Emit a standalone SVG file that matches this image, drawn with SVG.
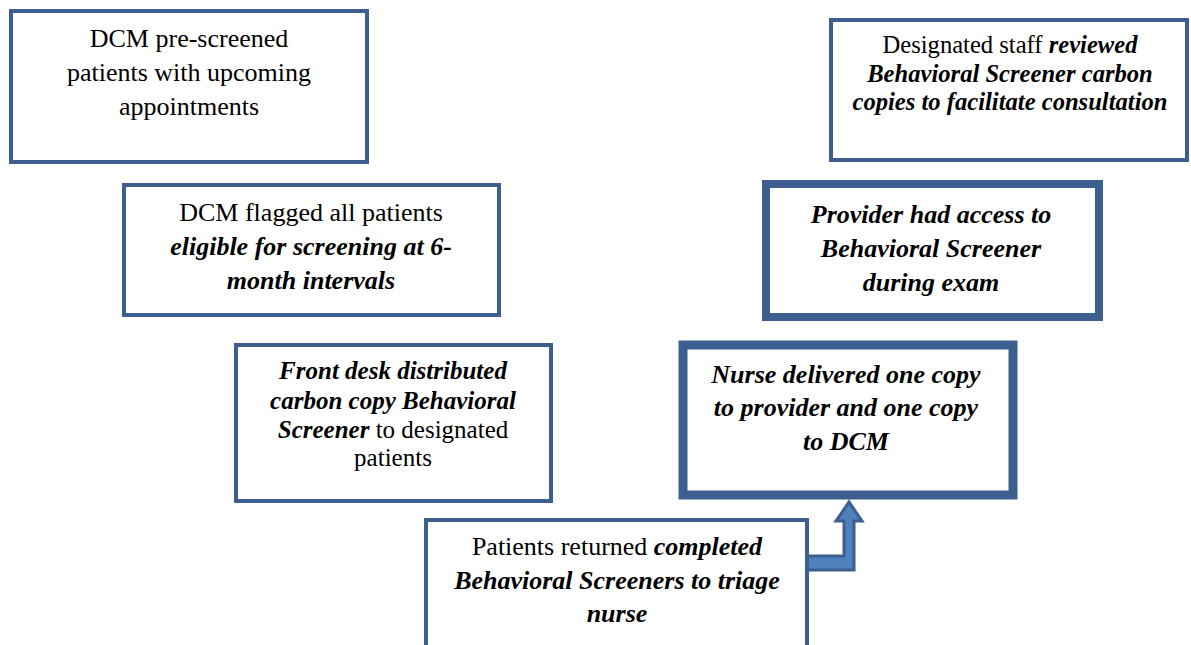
<svg xmlns="http://www.w3.org/2000/svg" width="1191" height="645" viewBox="0 0 1191 645">
<rect width="1191" height="645" fill="#ffffff"/>
<g id="connectors">
<path d="M 806 556 L 844 556 L 844 521 L 836 521 L 849 502 L 862 521 L 854 521 L 854 570 L 806 570 Z" fill="#4f81bd" stroke="#3c5f8f" stroke-width="3"/>
</g>
<g id="nodes" font-family="Liberation Serif" font-size="26" text-anchor="middle" fill="#000000">
<g id="n1">
<rect x="11" y="11" width="356" height="151" fill="#ffffff" stroke="#3c5f8f" stroke-width="4"/>
<text x="189" y="47">DCM pre-screened</text>
<text x="189" y="81">patients with upcoming</text>
<text x="189" y="115">appointments</text>
</g>
<g id="n2">
<rect x="124" y="185" width="375" height="130" fill="#ffffff" stroke="#3c5f8f" stroke-width="4"/>
<text x="311" y="221">DCM flagged all patients</text>
<text x="311" y="255" font-weight="bold" font-style="italic">eligible for screening at 6-</text>
<text x="311" y="289" font-weight="bold" font-style="italic">month intervals</text>
</g>
<g id="n3" font-size="25">
<rect x="236" y="345" width="315" height="156" fill="#ffffff" stroke="#3c5f8f" stroke-width="4"/>
<text x="393" y="379" font-weight="bold" font-style="italic">Front desk distributed</text>
<text x="393" y="409" font-weight="bold" font-style="italic">carbon copy Behavioral</text>
<text x="393" y="438"><tspan font-weight="bold" font-style="italic">Screener</tspan> to designated</text>
<text x="393" y="466">patients</text>
</g>
<g id="n4">
<rect x="426" y="520" width="381" height="140" fill="#ffffff" stroke="#3c5f8f" stroke-width="4"/>
<text x="617" y="555">Patients returned <tspan font-weight="bold" font-style="italic">completed</tspan></text>
<text x="617" y="589" font-weight="bold" font-style="italic">Behavioral Screeners to triage</text>
<text x="617" y="622" font-weight="bold" font-style="italic">nurse</text>
</g>
<g id="n5" font-weight="bold" font-style="italic">
<rect x="683" y="345" width="330" height="150" fill="#ffffff" stroke="#3c5f8f" stroke-width="9"/>
<text x="846" y="383">Nurse delivered one copy</text>
<text x="846" y="416">to provider and one copy</text>
<text x="846" y="450">to DCM</text>
</g>
<g id="n6" font-weight="bold" font-style="italic">
<rect x="766" y="184" width="333" height="133" fill="#ffffff" stroke="#3c5f8f" stroke-width="8"/>
<text x="931" y="223">Provider had access to</text>
<text x="931" y="257">Behavioral Screener</text>
<text x="931" y="291">during exam</text>
</g>
<g id="n7" font-size="24.6">
<rect x="831" y="20" width="356" height="140" fill="#ffffff" stroke="#3c5f8f" stroke-width="4"/>
<text x="1010" y="53">Designated staff <tspan font-weight="bold" font-style="italic">reviewed</tspan></text>
<text x="1010" y="82" font-weight="bold" font-style="italic">Behavioral Screener carbon</text>
<text x="1010" y="110" font-weight="bold" font-style="italic">copies to facilitate consultation</text>
</g>
</g>
</svg>
